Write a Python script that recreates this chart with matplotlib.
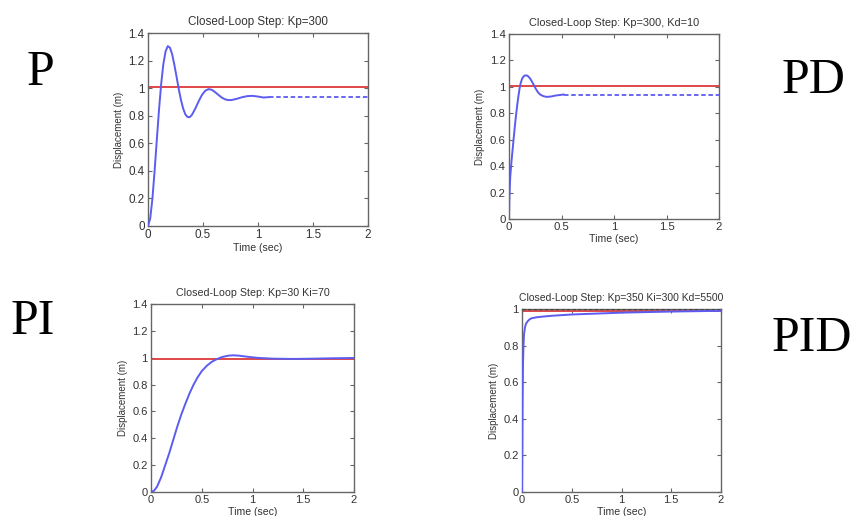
import matplotlib
matplotlib.use("Agg")
import matplotlib.pyplot as plt

# ---------------- data ----------------
titles = ["Closed-Loop Step: Kp=300", "Closed-Loop Step: Kp=300, Kd=10",
          "Closed-Loop Step: Kp=30 Ki=70", "Closed-Loop Step: Kp=350 Ki=300 Kd=5500"]
big_labels = ["P", "PD", "PI", "PID"]
x_ticks = [0, 0.5, 1, 1.5, 2]
x_tick_labels = ["0", "0.5", "1", "1.5", "2"]
y_ticks_a = [0, 0.2, 0.4, 0.6, 0.8, 1.0, 1.2, 1.4]
y_tick_labels_a = ["0", "0.2", "0.4", "0.6", "0.8", "1", "1.2", "1.4"]
y_ticks_b = [0, 0.2, 0.4, 0.6, 0.8, 1.0]
y_tick_labels_b = ["0", "0.2", "0.4", "0.6", "0.8", "1"]

# P controller response
p_t = [0, 0.02, 0.04, 0.06, 0.08, 0.10, 0.12, 0.14, 0.16, 0.18, 0.20, 0.22, 0.24,
       0.26, 0.28, 0.30, 0.32, 0.34, 0.36, 0.38, 0.40, 0.43, 0.46, 0.49, 0.52, 0.55,
       0.58, 0.61, 0.64, 0.67, 0.70, 0.73, 0.76, 0.80, 0.85, 0.90, 0.95, 1.00, 1.05, 1.10]
p_y = [0, 0.054, 0.197, 0.399, 0.624, 0.842, 1.032, 1.177, 1.267, 1.305, 1.293, 1.244,
       1.168, 1.081, 0.992, 0.913, 0.851, 0.809, 0.790, 0.790, 0.807, 0.852, 0.904,
       0.950, 0.981, 0.993, 0.988, 0.971, 0.951, 0.932, 0.919, 0.913, 0.914, 0.921,
       0.933, 0.942, 0.944, 0.939, 0.932, 0.935]
p_tail_t = [1.10, 2.0]
p_tail_y = [0.935, 0.935]
p_ref = 1.01

# PD controller response
pd_t = [0, 0.004, 0.012, 0.023, 0.035, 0.048, 0.062, 0.075, 0.088, 0.10, 0.11, 0.125,
        0.14, 0.155, 0.17, 0.185, 0.20, 0.215, 0.232, 0.25, 0.265, 0.28, 0.30, 0.33,
        0.36, 0.40, 0.45, 0.50, 0.52]
pd_y = [0, 0.17, 0.32, 0.43, 0.53, 0.64, 0.75, 0.84, 0.92, 0.985, 1.025, 1.062,
        1.080, 1.087, 1.086, 1.078, 1.064, 1.045, 1.020, 0.993, 0.972, 0.955, 0.940,
        0.929, 0.924, 0.927, 0.935, 0.940, 0.942]
pd_tail_t = [0.52, 2.0]
pd_tail_y = [0.942, 0.942]
pd_ref = 1.01

# PI controller response
pi_t = [0, 0.03, 0.06, 0.10, 0.14, 0.18, 0.22, 0.26, 0.30, 0.34, 0.38, 0.42, 0.46,
        0.50, 0.55, 0.60, 0.65, 0.70, 0.76, 0.81, 0.87, 0.95, 1.05, 1.2, 1.4, 1.6,
        1.8, 2.0]
pi_y = [0, 0.01, 0.04, 0.11, 0.20, 0.29, 0.39, 0.49, 0.58, 0.66, 0.735, 0.80, 0.855,
        0.90, 0.94, 0.97, 0.99, 1.005, 1.015, 1.018, 1.015, 1.007, 0.999, 0.993,
        0.991, 0.993, 0.996, 0.998]
pi_ref = 0.99

# PID controller response
pid_t = [0, 0.003, 0.006, 0.010, 0.015, 0.020, 0.030, 0.040, 0.060, 0.080, 0.10,
         0.15, 0.20, 0.30, 0.50, 0.75, 1.00, 1.25, 1.50, 1.75, 2.00]
pid_y = [0, 0.20, 0.50, 0.70, 0.80, 0.86, 0.90, 0.92, 0.935, 0.945, 0.95, 0.955,
         0.958, 0.963, 0.970, 0.975, 0.980, 0.983, 0.986, 0.988, 0.990]
pid_ref = 0.99
pid_final = 1.0

# ---------------- style ----------------
BLUE = "#5c5cf0"
RED = "#e04848"
TXT = "#333333"
SPINE = "#666666"
SANS = ["Liberation Sans", "DejaVu Sans"]
SERIF = ["Liberation Serif", "DejaVu Serif"]

fig = plt.figure(figsize=(8.55, 5.16), dpi=100)
fig.patch.set_facecolor("white")

W, H = 855.0, 516.0
def ax_rect(x0, y0, x1, y1):
    return [x0 / W, 1 - y1 / H, (x1 - x0) / W, (y1 - y0) / H]

rects = [ax_rect(148, 33, 368, 226), ax_rect(509, 34, 719, 219),
         ax_rect(151, 304, 354, 492), ax_rect(522, 309, 721, 492)]
title_sizes = [8.4, 7.9, 7.7, 7.5]
tick_sizes = [8.4, 8.2, 8.0, 8.0]

series = [
    (p_t, p_y, p_tail_t, p_tail_y, p_ref, None),
    (pd_t, pd_y, pd_tail_t, pd_tail_y, pd_ref, None),
    (pi_t, pi_y, None, None, pi_ref, None),
    (pid_t, pid_y, None, None, pid_ref, pid_final),
]

for i, (rect, (t, y, tt, ty, ref, fin)) in enumerate(zip(rects, series)):
    ax = fig.add_axes(rect)
    ax.axhline(ref, color=RED, lw=1.4, zorder=2)
    if fin is not None:
        ax.axhline(fin, color="#444444", lw=1.0, ls=(0, (2.5, 1.5)), zorder=3)
    ax.plot(t, y, color=BLUE, lw=1.4, zorder=4)
    if tt is not None:
        ax.plot(tt, ty, color=BLUE, lw=1.3, ls=(0, (2.5, 1.5)), zorder=4)
    ax.set_xlim(0, 2)
    if i == 3:
        ax.set_ylim(0, 1)
        ax.set_yticks(y_ticks_b)
        ax.set_yticklabels(y_tick_labels_b)
    else:
        ax.set_ylim(0, 1.4)
        ax.set_yticks(y_ticks_a)
        ax.set_yticklabels(y_tick_labels_a)
    ax.set_xticks(x_ticks)
    ax.set_xticklabels(x_tick_labels)
    ax.tick_params(direction="in", length=3, width=0.8, colors=SPINE,
                   labelcolor=TXT, labelsize=tick_sizes[i], pad=2.5,
                   top=True, right=True)
    for lab in ax.get_xticklabels() + ax.get_yticklabels():
        lab.set_family(SANS)
    for s in ax.spines.values():
        s.set_color(SPINE)
        s.set_linewidth(1.0)
    ax.set_title(titles[i], fontsize=title_sizes[i], color=TXT, family=SANS, pad=6)
    ax.set_xlabel("Time (sec)", fontsize=7.6, color=TXT, family=SANS, labelpad=1)
    ax.set_ylabel("Displacement (m)", fontsize=7.0, color=TXT, family=SANS, labelpad=3)

# big letters
fig.text(40 / W, 1 - 85 / H, big_labels[0], fontsize=36, family=SERIF, ha="center", va="baseline")
fig.text(813 / W, 1 - 93 / H, big_labels[1], fontsize=36, family=SERIF, ha="center", va="baseline")
fig.text(33 / W, 1 - 334 / H, big_labels[2], fontsize=36, family=SERIF, ha="center", va="baseline")
fig.text(812 / W, 1 - 351 / H, big_labels[3], fontsize=36, family=SERIF, ha="center", va="baseline")

fig.savefig("out.png", dpi=100, facecolor="white")
